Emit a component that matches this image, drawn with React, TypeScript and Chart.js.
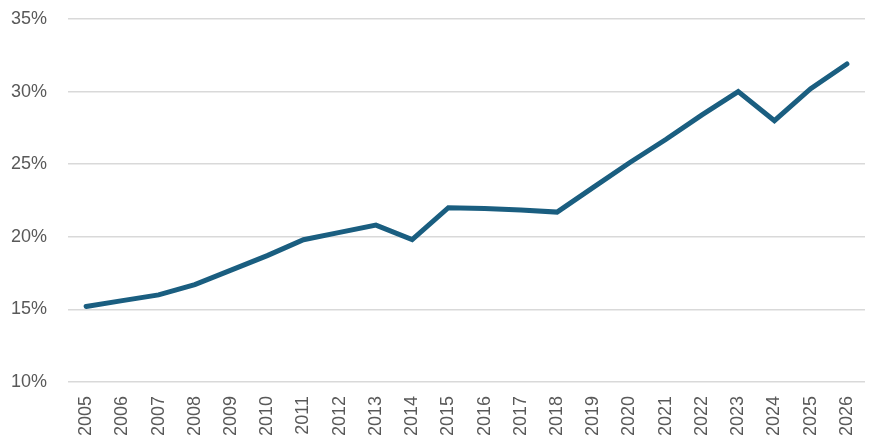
import { useEffect, useRef } from "react";
import Chart from "chart.js/auto";

const years = [
  "2005", "2006", "2007", "2008", "2009", "2010", "2011", "2012", "2013", "2014", "2015",
  "2016", "2017", "2018", "2019", "2020", "2021", "2022", "2023", "2024", "2025", "2026",
];
const shares = [
  15.2, 15.6, 16.0, 16.7, 17.7, 18.7, 19.8, 20.3, 20.8, 19.8, 22.0,
  21.95, 21.85, 21.7, 23.4, 25.1, 26.7, 28.4, 30.0, 28.0, 30.2, 31.9,
];
const yMin = 10;
const yMax = 35;
const yStep = 5;

const App = () => {
  const canvasRef = useRef<HTMLCanvasElement | null>(null);
  const chartRef = useRef<Chart | null>(null);

  useEffect(() => {
    if (!canvasRef.current) return;
    chartRef.current = new Chart(canvasRef.current, {
      type: "line",
      data: {
        labels: years,
        datasets: [
          {
            label: "Share",
            data: shares,
            borderColor: "#1a5e80",
            borderWidth: 5,
            borderCapStyle: "round",
            borderJoinStyle: "miter",
            pointRadius: 0,
            tension: 0,
          },
        ],
      },
      options: {
        animation: false,
        responsive: false,
        maintainAspectRatio: false,
        layout: {
          padding: { top: 19, right: 19, bottom: -5, left: 11 },
        },
        plugins: {
          legend: { display: false },
          tooltip: { enabled: false },
        },
        scales: {
          x: {
            offset: true,
            grid: { display: false, drawTicks: false },
            border: { display: false },
            ticks: {
              color: "#595959",
              font: { family: "'Liberation Sans', Arial, sans-serif", size: 18 },
              maxRotation: 90,
              minRotation: 90,
              autoSkip: false,
              padding: 14,
            },
          },
          y: {
            min: yMin,
            max: yMax,
            afterFit: (scale) => {
              scale.width = 57;
            },
            grid: { color: "#d9d9d9", lineWidth: 1.5, drawTicks: false },
            border: { display: false },
            ticks: {
              stepSize: yStep,
              color: "#595959",
              font: { family: "'Liberation Sans', Arial, sans-serif", size: 18 },
              padding: 0,
              crossAlign: "far",
              callback: (value) => `${value}%`,
            },
          },
        },
      },
    });

    return () => {
      chartRef.current?.destroy();
      chartRef.current = null;
    };
  }, []);

  return (
    <div style={{ position: "absolute", left: 0, top: 0, width: 884, height: 445, background: "#fff" }}>
      <canvas ref={canvasRef} width={884} height={445} style={{ width: 884, height: 445 }} />
    </div>
  );
};

export default App;
